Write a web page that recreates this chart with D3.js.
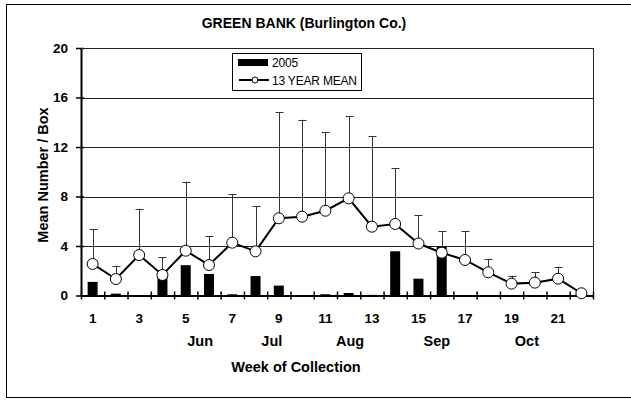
<!DOCTYPE html>
<html>
<head>
<meta charset="utf-8">
<script src="https://cdn.jsdelivr.net/npm/d3@7"></script>
<style>
    body { margin: 0; background: #fff; }
    svg { display: block; font-family: "Liberation Sans", Arial, sans-serif; }
</style>
</head>
<body>
<div class="content"></div>
<script>
(function () {
    'use strict';
    // data
    var weeks = d3.range(1, 23),
        mean13 = [2.55, 1.33, 3.27, 1.66, 3.62, 2.46, 4.27, 3.57, 6.24, 6.37, 6.85, 7.85, 5.56, 5.78, 4.2, 3.46, 2.87, 1.87, 0.96, 1.04, 1.36, 0.18],
        sd13 = [2.82, 1.07, 3.73, 1.44, 5.58, 2.34, 3.93, 3.63, 8.56, 7.83, 6.35, 6.65, 7.34, 4.52, 2.3, 1.74, 2.33, 1.1, 0.64, 0.86, 0.97, 0],
        y2005 = [1.1, 0.15, 0.03, 1.8, 2.45, 1.74, 0.1, 1.57, 0.8, 0.03, 0.1, 0.2, 0.05, 3.57, 1.36, 3.95, 0, 0, 0, 0, 0, 0],
        yTicks = [0, 4, 8, 12, 16, 20],
        xLabels = [1, 3, 5, 7, 9, 11, 13, 15, 17, 19, 21],
        months = ["Jun", "Jul", "Aug", "Sep", "Oct"],
        monthPos = [5.62, 8.7, 12.06, 15.79, 19.66];

    var W = 631, H = 401,
        plot = {left: 81, right: 593, top: 48, bottom: 295.5};

    var svg = d3.select(".content").append("svg")
        .attr("width", W)
        .attr("height", H);

    // outer frame
    svg.append("rect")
        .attr("x", 6.5).attr("y", 4.5)
        .attr("width", 630).attr("height", 393)
        .attr("fill", "none").attr("stroke", "#000").attr("stroke-width", 1);

    var x = d3.scaleLinear().domain([0.5, 22.5]).range([plot.left, plot.right]),
        y = d3.scaleLinear().domain([0, 20]).range([plot.bottom, plot.top]),
        barW = 10;

    // gridlines
    svg.append("g").selectAll("line")
        .data(yTicks.filter(function (d) { return d > 0; }))
        .enter().append("line")
        .attr("x1", plot.left).attr("x2", plot.right)
        .attr("y1", function (d) { return Math.round(y(d)) + 0.5; })
        .attr("y2", function (d) { return Math.round(y(d)) + 0.5; })
        .attr("stroke", "#222").attr("stroke-width", 1);

    // right border
    svg.append("line")
        .attr("x1", plot.right + 0.5).attr("x2", plot.right + 0.5)
        .attr("y1", plot.top).attr("y2", plot.bottom)
        .attr("stroke", "#222");

    // 2005 bars
    svg.append("g").selectAll("rect")
        .data(weeks)
        .enter().append("rect")
        .attr("x", function (d) { return x(d) - barW / 2; })
        .attr("y", function (d, i) { return y(y2005[i]); })
        .attr("width", barW)
        .attr("height", function (d, i) { return y(0) - y(y2005[i]); })
        .attr("fill", "#000");

    // error bars (upper only)
    var err = svg.append("g").selectAll("g")
        .data(weeks.filter(function (d, i) { return sd13[i] > 0; }))
        .enter().append("g");
    err.append("line")
        .attr("x1", function (d) { return Math.round(x(d)) + 0.5; })
        .attr("x2", function (d) { return Math.round(x(d)) + 0.5; })
        .attr("y1", function (d) { return y(mean13[d - 1]); })
        .attr("y2", function (d) { return y(mean13[d - 1] + sd13[d - 1]); })
        .attr("stroke", "#333").attr("stroke-width", 1);
    err.append("line")
        .attr("x1", function (d) { return Math.round(x(d)) - 3.5; })
        .attr("x2", function (d) { return Math.round(x(d)) + 4.5; })
        .attr("y1", function (d) { return Math.round(y(mean13[d - 1] + sd13[d - 1])) + 0.5; })
        .attr("y2", function (d) { return Math.round(y(mean13[d - 1] + sd13[d - 1])) + 0.5; })
        .attr("stroke", "#333").attr("stroke-width", 1);

    // axes
    var yAxis = svg.append("g")
        .attr("transform", "translate(" + plot.left + ",0)")
        .call(d3.axisLeft(y).tickValues(yTicks).tickSize(5).tickSizeOuter(0).tickPadding(8));
    yAxis.select(".domain").attr("stroke-width", 2);
    yAxis.selectAll(".tick line").attr("x2", -5).attr("x1", 3).attr("stroke-width", 1.5);
    yAxis.selectAll(".tick text")
        .attr("font-size", "13.5px").attr("font-weight", "bold")
        .attr("font-family", "Liberation Sans, Arial, sans-serif").attr("fill", "#000");

    // top border (20 line)
    svg.append("line")
        .attr("x1", plot.left).attr("x2", plot.right + 1)
        .attr("y1", plot.top + 0.5).attr("y2", plot.top + 0.5)
        .attr("stroke", "#222");

    var xAxis = svg.append("g")
        .attr("transform", "translate(0," + plot.bottom + ")")
        .call(d3.axisBottom(x).tickValues(d3.range(0.5, 23, 1)).tickSize(4).tickSizeOuter(0).tickFormat(""));
    xAxis.select(".domain").attr("stroke-width", 2);
    xAxis.selectAll(".tick line").attr("y1", -4).attr("y2", 4).attr("stroke-width", 1.5);

    svg.append("g").selectAll("text")
        .data(xLabels)
        .enter().append("text")
        .attr("x", function (d) { return x(d); })
        .attr("y", 323)
        .attr("text-anchor", "middle")
        .attr("font-size", "13.5px").attr("font-weight", "bold")
        .text(function (d) { return d; });

    svg.append("g").selectAll("text")
        .data(months)
        .enter().append("text")
        .attr("x", function (d, i) { return x(monthPos[i]); })
        .attr("y", 346)
        .attr("text-anchor", "middle")
        .attr("font-size", "14.5px").attr("font-weight", "bold")
        .text(function (d) { return d; });

    // 13 year mean line + markers
    var line = d3.line()
        .x(function (d) { return x(d); })
        .y(function (d) { return y(mean13[d - 1]); });
    svg.append("path")
        .datum(weeks)
        .attr("d", line)
        .attr("fill", "none").attr("stroke", "#000").attr("stroke-width", 2);
    svg.append("g").selectAll("circle")
        .data(weeks)
        .enter().append("circle")
        .attr("cx", function (d) { return x(d); })
        .attr("cy", function (d) { return y(mean13[d - 1]); })
        .attr("r", 5.5)
        .attr("fill", "#fff").attr("stroke", "#000").attr("stroke-width", 1);

    // titles
    svg.append("text")
        .attr("x", 304).attr("y", 28)
        .attr("text-anchor", "middle")
        .attr("font-size", "14px").attr("font-weight", "bold")
        .text("GREEN BANK (Burlington Co.)");
    svg.append("text")
        .attr("x", 296).attr("y", 372)
        .attr("text-anchor", "middle")
        .attr("font-size", "14.5px").attr("font-weight", "bold")
        .text("Week of Collection");
    svg.append("text")
        .attr("transform", "translate(48,175) rotate(-90)")
        .attr("text-anchor", "middle")
        .attr("font-size", "14.5px").attr("font-weight", "bold")
        .text("Mean Number / Box");

    // legend
    var legend = svg.append("g");
    legend.append("rect")
        .attr("x", 232.5).attr("y", 53.5)
        .attr("width", 129).attr("height", 37)
        .attr("fill", "#fff").attr("stroke", "#000");
    legend.append("rect")
        .attr("x", 238).attr("y", 59)
        .attr("width", 30).attr("height", 7)
        .attr("fill", "#000");
    legend.append("line")
        .attr("x1", 239).attr("x2", 269)
        .attr("y1", 80).attr("y2", 80)
        .attr("stroke", "#000").attr("stroke-width", 2);
    legend.append("circle")
        .attr("cx", 255).attr("cy", 80).attr("r", 3)
        .attr("fill", "#fff").attr("stroke", "#000");
    legend.append("text")
        .attr("x", 272).attr("y", 67)
        .attr("font-size", "12px").attr("letter-spacing", "-0.2px")
        .text("2005");
    legend.append("text")
        .attr("x", 272).attr("y", 84.5)
        .attr("font-size", "12px").attr("letter-spacing", "-0.2px")
        .text("13 YEAR MEAN");
}());
</script>
</body>
</html>
